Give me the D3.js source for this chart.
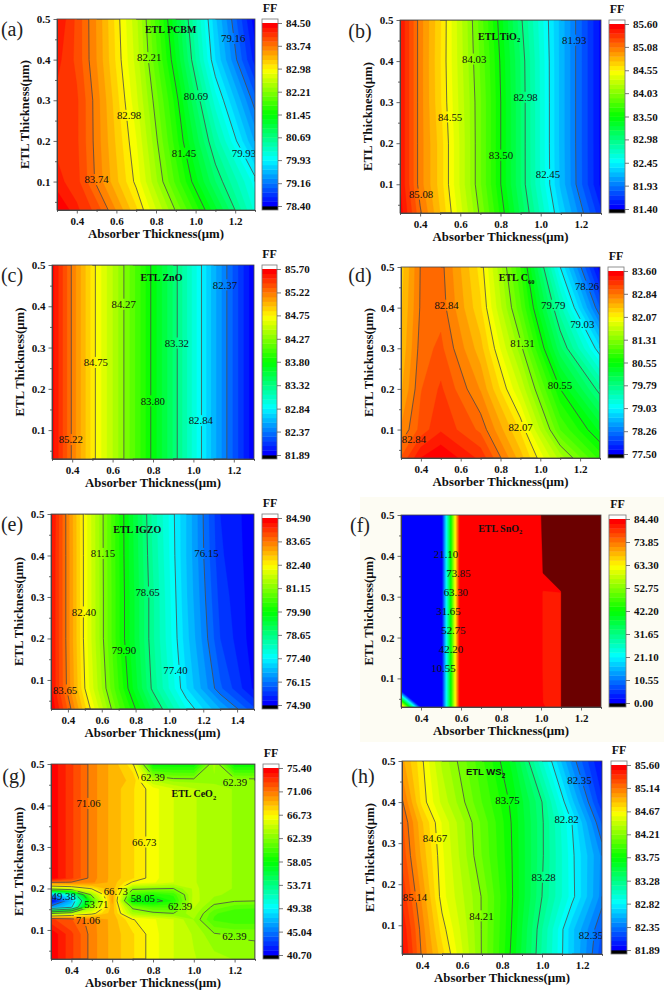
<!DOCTYPE html>
<html><head><meta charset="utf-8">
<script src="https://cdn.jsdelivr.net/npm/d3@7"></script>
<style>html,body{margin:0;padding:0;background:#fff}svg{display:block}</style>
</head><body><svg id="c" width="664" height="992"></svg>
<script>
// ---------- data ----------
const xsStd = [0.3,0.4,0.5,0.7,0.9,1.1,1.3];
const ysStd = [0.03,0.1,0.2,0.3,0.4,0.5];

const ticksA = [78.40,79.16,79.93,80.69,81.45,82.21,82.98,83.74,84.50];
const ffA = [
 [84.55,84.23,83.98,83.16,82.19,81.19,80.18],
 [84.25,84.10,83.70,82.93,81.86,80.84,80.00],
 [84.15,84.07,83.67,82.83,81.67,80.49,79.44],
 [84.15,84.07,83.66,82.71,81.53,80.15,79.07],
 [84.25,84.00,83.58,82.61,81.30,79.77,78.63],
 [84.35,84.00,83.57,82.56,81.16,79.65,78.45]];
const labelsA = [["83.74",.5,.105],["82.98",.664,.263],["82.21",.766,.405],["81.45",.941,.17],["80.69",1.002,.311],["79.93",1.244,.17],["79.16",1.19,.452]];

const ticksB = [81.40,81.93,82.45,82.98,83.50,84.03,84.55,85.08,85.60];
const ffB = [
 [85.55,85.10,84.76,84.00,83.16,82.32,81.63],
 [85.50,85.02,84.71,83.93,83.08,82.21,81.47],
 [85.50,85.02,84.71,83.93,83.08,82.20,81.47],
 [85.50,85.02,84.67,83.93,83.08,82.20,81.47],
 [85.50,85.02,84.66,83.90,83.07,82.20,81.47],
 [85.50,85.02,84.67,83.87,83.01,82.20,81.47]];
const labelsB = [["85.08",.405,.076],["84.55",.549,.264],["84.03",.669,.405],["83.50",.802,.171],["82.98",.925,.312],["82.45",1.036,.124],["81.93",1.167,.451]];

const ysC = [0.03,0.5];
const ticksC = [81.89,82.37,82.84,83.32,83.80,84.27,84.75,85.22,85.70];
const ffC = [
 [85.65,85.20,84.80,84.12,83.40,82.60,81.90],
 [85.65,85.20,84.80,84.12,83.40,82.60,81.90]];
const labelsC = [["85.22",.393,.077],["84.75",.517,.264],["84.27",.655,.405],["83.80",.799,.171],["83.32",.918,.311],["82.84",1.037,.123],["82.37",1.156,.452]];

const ticksD = [77.50,78.26,79.03,79.79,80.55,81.31,82.07,82.84,83.60];
const ffD = [
 [83.00,83.45,83.60,83.25,82.45,81.55,80.80],
 [82.70,83.05,83.27,82.95,82.20,81.00,80.35],
 [82.50,82.98,83.17,82.67,81.75,80.55,79.70],
 [82.40,82.92,83.03,82.44,81.38,79.98,78.90],
 [82.35,82.87,82.93,82.25,81.04,79.54,78.10],
 [82.30,82.86,82.90,82.16,80.85,79.03,77.55]];
const labelsD = [["82.84",.365,.075],["82.84",.529,.406],["82.07",.901,.105],["81.31",.91,.312],["80.55",1.099,.209],["79.79",1.065,.406],["79.03",1.211,.359],["78.26",1.235,.453]];

const xsE = [0.3,0.4,0.5,0.7,0.9,1.1,1.3,1.5];
const ysE = [0.03,0.08,0.2,0.3,0.4,0.5];
const ticksE = [74.90,76.15,77.40,78.65,79.90,81.15,82.40,83.65,84.90];
const ffE = [
 [84.90,83.85,82.73,80.72,79.07,77.65,76.65,75.70],
 [84.70,83.55,82.40,80.40,78.58,77.16,75.95,75.10],
 [84.70,83.50,82.30,80.20,78.46,77.00,75.65,75.00],
 [84.70,83.50,82.30,80.20,78.46,76.93,75.55,75.00],
 [84.70,83.50,82.30,80.18,78.39,76.89,75.45,75.00],
 [84.75,83.49,82.29,80.18,78.33,76.89,75.40,75.00]];
const labelsE = [["83.65",.383,.076],["82.40",.495,.264],["81.15",.607,.405],["79.90",.731,.171],["78.65",.871,.312],["77.40",1.036,.123],["76.15",1.219,.405]];

const xsF = [0.3,0.4,0.505,0.595,1.0,1.01,1.1,1.11,1.3];
const ysF = [0.03,0.07,0.12,0.31,0.36,0.5];
const ticksF = [0.00,10.55,21.10,31.65,42.20,52.75,63.30,73.85,84.40];
const ffF = [
 [72,0.5,0.5,84,84,82.4,81.5,200,200],
 [0.5,0.5,0.5,84,84,82.0,81.5,200,200],
 [0.5,0.5,0.5,84,84,81.5,81.5,200,200],
 [0.5,0.5,0.5,84,84,81.5,81.5,200,200],
 [0.5,0.5,0.5,84,84,90.5,200,200,200],
 [0.5,0.5,0.5,84,84,200,200,200,200]];
const labelsF = [["21.10",.525,.404],["73.85",.587,.358],["63.30",.574,.311],["31.65",.537,.265],["52.75",.562,.218],["42.20",.55,.171],["10.55",.512,.124]];

const xsG = [0.3,0.4,0.5,0.6,0.7,0.8,0.9,1.0,1.1,1.2,1.3];
const ysG = [0.03,0.09,0.125,0.14,0.155,0.17,0.185,0.2,0.215,0.225,0.44,0.46,0.5];
const ticksG = [40.70,45.04,49.38,53.71,58.05,62.39,66.73,71.06,75.40];
const ffG = [
 [75.3,73.0,70.6,69.0,67.7,66.2,65.0,64.2,63.6,63.2,62.9],
 [75.3,73.0,70.6,69.0,67.7,66.2,65.0,64.0,62.5,62.2,62.2],
 [73.0,72.0,70.5,69.0,66.8,66.0,65.0,63.2,60.5,60.0,60.0],
 [62.0,64.0,66.2,69.0,63.5,62.8,62.39,63.8,60.8,60.0,60.0],
 [46.0,49.0,63.0,69.0,62.0,60.5,60.5,64.2,62.0,61.0,60.8],
 [41.0,47.0,60.0,69.6,57.5,57.2,59.0,64.6,62.9,62.5,62.39],
 [46.0,51.0,63.0,69.4,60.0,59.0,60.0,64.4,63.4,63.0,62.8],
 [64.0,65.0,67.0,69.2,62.8,62.6,62.39,64.3,63.6,63.2,62.9],
 [71.2,71.0,70.4,69.0,66.6,66.0,65.0,64.2,63.6,63.2,62.9],
 [75.3,73.0,70.6,69.0,67.7,66.2,65.0,64.2,63.6,63.2,62.9],
 [75.3,73.0,70.6,69.0,67.7,66.2,65.0,64.2,63.6,63.2,62.9],
 [75.3,73.0,70.6,69.0,68.2,64.0,63.0,62.9,63.0,63.0,62.9],
 [75.3,73.0,70.6,69.0,67.0,58.0,58.0,58.0,63.6,58.0,58.0]];
const labelsG = [["49.38",.362,.182],["53.71",.522,.163],["66.73",.618,.194],["71.06",.484,.405],["71.06",.481,.123],["66.73",.757,.312],["62.39",.799,.468],["62.39",1.202,.457],["58.05",.75,.176],["62.39",.933,.158],["62.39",1.199,.084]];

const xsH = [0.3,0.4,0.5,0.7,0.85,1.0,1.15,1.3];
const ysH = [0.03,0.09,0.17,0.27,0.35,0.4,0.5];
const ticksH = [81.89,82.35,82.82,83.28,83.75,84.21,84.67,85.14,85.60];
const ffH = [
 [85.55,85.12,84.80,84.20,83.72,83.17,82.66,82.20],
 [85.50,85.09,84.72,84.20,83.74,83.19,82.66,82.25],
 [85.40,85.02,84.62,84.20,83.76,83.28,82.86,82.40],
 [85.30,84.92,84.60,84.11,83.75,83.30,82.85,82.42],
 [85.25,84.87,84.57,84.09,83.74,83.30,82.82,82.24],
 [85.16,84.73,84.46,84.02,83.72,83.28,82.66,82.09],
 [84.98,84.69,84.37,83.95,83.62,83.01,82.41,81.95]];
const labelsH = [["85.14",.365,.169],["84.67",.465,.311],["84.21",.697,.123],["83.75",.827,.405],["83.28",1.008,.217],["82.82",1.123,.358],["82.35",1.187,.453],["82.35",1.245,.076]];

const xTicksStd = [0.4,0.6,0.8,1.0,1.2];
const xTicksE = [0.4,0.6,0.8,1.0,1.2,1.4];
const yTicks = [0.1,0.2,0.3,0.4,0.5];
const yMinorTicks = [0.05,0.15,0.25,0.35,0.45];
const xTitle = "Absorber Thickness(μm)";
const yTitle = "ETL Thickness(μm)";

// ---------- layout ----------
const panels = [
 {id:"a",xs:xsStd,ys:ysStd,ff:ffA,ticks:ticksA,labels:labelsA,name:["ETL PCBM"],nameAt:[.874,.474],L:57,R:255,T:19,B:210,bL:262,bR:278,tag:[12,29],xT:xTicksStd,xMax:1.3},
 {id:"b",xs:xsStd,ys:ysStd,ff:ffB,ticks:ticksB,labels:labelsB,name:["ETL TiO","2"],nameAt:[.793,.461],L:400,R:601,T:20,B:213,bL:609,bR:625,tag:[360,31],xT:xTicksStd,xMax:1.3},
 {id:"c",xs:xsStd,ys:ysC,ff:ffC,ticks:ticksC,labels:labelsC,name:["ETL ZnO"],nameAt:[.842,.469],L:52,R:254,T:265,B:459,bL:262,bR:277,tag:[12,275],xT:xTicksStd,xMax:1.3},
 {id:"d",xs:xsStd,ys:ysStd,ff:ffD,ticks:ticksD,labels:labelsD,name:["ETL C","60"],nameAt:[.881,.474],L:401,R:600,T:267,B:458,bL:608,bR:624,tag:[360,275],xT:xTicksStd,xMax:1.3},
 {id:"e",xs:xsE,ys:ysE,ff:ffE,ticks:ticksE,labels:labelsE,name:["ETL IGZO"],nameAt:[.81,.463],L:51,R:254,T:514,B:709,bL:262,bR:278,tag:[12,524],xT:xTicksE,xMax:1.5},
 {id:"f",xs:xsF,ys:ysF,ff:ffF,ticks:ticksF,labels:labelsF,name:["ETL SnO","2"],nameAt:[.796,.467],L:401,R:601,T:515,B:707,bL:609,bR:626,tag:[360,525],xT:xTicksStd,xMax:1.3,over:90,noLines:true},
 {id:"g",xs:xsG,ys:ysG,ff:ffG,ticks:ticksG,labels:labelsG,name:["ETL CeO","2"],nameAt:[1.0,.428],L:51,R:255,T:764,B:959,bL:263,bR:279,tag:[14,776],xT:xTicksStd,xMax:1.3},
 {id:"h",xs:xsH,ys:ysH,ff:ffH,ticks:ticksH,labels:labelsH,name:["ETL WS","2"],nameAt:[.718,.473],L:402,R:602,T:761,B:954,bL:611,bR:627,tag:[363,776],xT:xTicksStd,xMax:1.3,sans:true}
];
const serif = "'Liberation Serif','Times New Roman',serif";
const rainbow = d3.scaleLinear().domain([0,.25,.5,.75,1]).range(["#0000ff","#00ffff","#00ff00","#ffff00","#ff0000"]);
const nBands = 40;
const svg = d3.select("#c");
svg.append("rect").attr("x",360).attr("y",497).attr("width",304).attr("height",245).attr("fill","#fdfcf3");

function interpAxis(arr, c){
  const n = arr.length;
  const idx = Math.max(0, Math.min(n-1, c-0.5));
  const i = Math.min(n-2, Math.floor(idx));
  return arr[i] + (arr[i+1]-arr[i])*(idx-i);
}

panels.forEach(p=>{
  const g = svg.append("g");
  const x = d3.scaleLinear().domain([0.3,p.xMax]).range([p.L,p.R]);
  const y = d3.scaleLinear().domain([0.03,0.5]).range([p.B,p.T]);
  const lo = p.ticks[0], hi = p.ticks[p.ticks.length-1];
  const step = (hi-lo)/nBands;
  const band = i => rainbow(i/(nBands-1));
  const nx = p.xs.length, ny = p.ys.length;
  const flat = p.ff.flat();
  const contours = d3.contours().size([nx,ny]).smooth(true);
  const px = pt => [x(interpAxis(p.xs,pt[0])), y(interpAxis(p.ys,pt[1]))];
  const geo = d3.geoPath(d3.geoTransform({point(a,b){const q=px([a,b]);this.stream.point(q[0],q[1]);}}));

  const defs = g.append("defs");
  defs.append("clipPath").attr("id","clip"+p.id).append("rect").attr("x",p.L).attr("y",p.T).attr("width",p.R-p.L).attr("height",p.B-p.T);
  const mask = defs.append("mask").attr("id","mask"+p.id).attr("maskUnits","userSpaceOnUse")
    .attr("x",p.L-2).attr("y",p.T-2).attr("width",p.R-p.L+4).attr("height",p.B-p.T+4);
  mask.append("rect").attr("x",p.L-2).attr("y",p.T-2).attr("width",p.R-p.L+4).attr("height",p.B-p.T+4).attr("fill","#fff");
  p.labels.forEach(l=>mask.append("rect").attr("x",x(l[1])-14).attr("y",y(l[2])-5.5).attr("width",28).attr("height",11).attr("fill","#000"));

  const plot = g.append("g").attr("clip-path",`url(#clip${p.id})`);
  plot.append("rect").attr("x",p.L).attr("y",p.T).attr("width",p.R-p.L).attr("height",p.B-p.T).attr("fill",band(0));
  d3.range(1,nBands).forEach(i=>{
    const c = band(i);
    plot.append("path").datum(contours.contour(flat, lo+i*step)).attr("d",geo).attr("fill",c).attr("stroke",c).attr("stroke-width",0.3);
  });
  if(p.over) plot.append("path").datum(contours.contour(flat,p.over)).attr("d",geo).attr("fill","#6b0000").attr("stroke","#6b0000").attr("stroke-width",0.3);

  if(!p.noLines){
    const lines = plot.append("g").attr("mask",`url(#mask${p.id})`);
    p.ticks.slice(1,-1).forEach(v=>{
      const mp = contours.contour(flat,v);
      let d = "";
      mp.coordinates.forEach(poly=>poly.forEach(ring=>{
        let pen = false;
        for(let k=0;k<ring.length-1;k++){
          const a=ring[k], b=ring[k+1];
          const edge = (a[0]===b[0]&&(a[0]<=0||a[0]>=nx)) || (a[1]===b[1]&&(a[1]<=0||a[1]>=ny));
          if(edge){pen=false;continue;}
          const A=px(a),B=px(b);
          if(!pen) d+=`M${A[0].toFixed(2)},${A[1].toFixed(2)}`;
          d+=`L${B[0].toFixed(2)},${B[1].toFixed(2)}`;
          pen=true;
        }
      }));
      lines.append("path").attr("d",d).attr("fill","none").attr("stroke","#4a4a4a").attr("stroke-width",0.8);
    });
  }
  const tx = plot.append("g").attr("font-family",serif).attr("font-size",10.8).attr("fill","#111").attr("text-anchor","middle");
  p.labels.forEach(l=>tx.append("text").attr("x",x(l[1])).attr("y",y(l[2])).attr("dy","0.35em").text(l[0]));

  // panel name
  const nm = g.append("text").attr("x",x(p.nameAt[0])).attr("y",y(p.nameAt[1])).attr("dy","0.35em").attr("text-anchor","middle")
    .attr("font-family",p.sans?"'Liberation Sans',Arial,sans-serif":serif).attr("font-weight","bold").attr("font-size",p.sans?9.5:10).attr("fill","#111");
  nm.append("tspan").text(p.name[0]);
  if(p.name[1]) nm.append("tspan").attr("dy","2.5").attr("font-size",6.5).text(p.name[1]);

  // frame & axes
  g.append("rect").attr("x",p.L).attr("y",p.T).attr("width",p.R-p.L).attr("height",p.B-p.T).attr("fill","none").attr("stroke","#444").attr("stroke-width",0.8);
  const xa = g.append("g").attr("transform",`translate(0,${p.B})`).call(d3.axisBottom(x).tickValues(p.xT).tickFormat(d3.format(".1f")).tickSizeInner(3.5).tickSizeOuter(0).tickPadding(3.5));
  const ya = g.append("g").attr("transform",`translate(${p.L},0)`).call(d3.axisLeft(y).tickValues(yTicks).tickFormat(d3.format(".1f")).tickSizeInner(3.5).tickSizeOuter(0).tickPadding(3));
  const xMinor = p.xT.map(v=>v+0.1).concat([0.3]).filter(v=>v<=p.xMax+1e-6);
  g.append("g").attr("transform",`translate(0,${p.B})`).call(d3.axisBottom(x).tickValues(xMinor).tickFormat("").tickSizeInner(2).tickSizeOuter(0));
  g.append("g").attr("transform",`translate(${p.L},0)`).call(d3.axisLeft(y).tickValues(yMinorTicks).tickFormat("").tickSizeInner(2).tickSizeOuter(0));
  [xa,ya].forEach(a=>a.selectAll("text").attr("font-family",serif).attr("font-weight","bold").attr("font-size",11).attr("fill","#111"));
  g.selectAll(".domain").attr("stroke","#444").attr("stroke-width",0.8);
  g.selectAll(".tick line").attr("stroke","#444").attr("stroke-width",0.8);

  g.append("text").attr("x",(p.L+p.R)/2).attr("y",p.B+24).attr("dy","0.35em").attr("text-anchor","middle")
    .attr("font-family",serif).attr("font-weight","bold").attr("font-size",12.8).attr("fill","#111").text(xTitle);
  g.append("text").attr("transform",`translate(${p.L-32},${(p.T+p.B)/2}) rotate(-90)`).attr("dy","0.35em").attr("text-anchor","middle")
    .attr("font-family",serif).attr("font-weight","bold").attr("font-size",12.8).attr("fill","#111").text(yTitle);
  g.append("text").attr("x",p.tag[0]).attr("y",p.tag[1]).attr("dy","0.35em").attr("text-anchor","middle")
    .attr("font-family",serif).attr("font-size",20).attr("fill","#222").text(`(${p.id})`);

  // colour bar
  const by = d3.scaleLinear().domain([lo,hi]).range([p.B-4,p.T+4]);
  const bar = g.append("g");
  bar.append("rect").attr("x",p.bL).attr("y",p.T).attr("width",p.bR-p.bL).attr("height",4).attr("fill","#fff");
  bar.append("rect").attr("x",p.bL).attr("y",by(lo)).attr("width",p.bR-p.bL).attr("height",4).attr("fill","#000");
  d3.range(nBands).forEach(i=>{
    bar.append("rect").attr("x",p.bL).attr("width",p.bR-p.bL)
      .attr("y",by(lo+(i+1)*step)).attr("height",by(lo+i*step)-by(lo+(i+1)*step)+0.4).attr("fill",band(i));
  });
  bar.append("rect").attr("x",p.bL).attr("y",p.T).attr("width",p.bR-p.bL).attr("height",p.B-p.T).attr("fill","none").attr("stroke","#777").attr("stroke-width",0.8);
  const ba = g.append("g").attr("transform",`translate(${p.bR},0)`).call(d3.axisRight(by).tickValues(p.ticks).tickFormat(d3.format(".2f")).tickSizeInner(4).tickSizeOuter(0).tickPadding(4));
  ba.select(".domain").remove();
  ba.selectAll("line").attr("stroke","#555").attr("stroke-width",0.8);
  ba.selectAll("text").attr("font-family",serif).attr("font-weight","bold").attr("font-size",11).attr("fill","#111");
  g.append("text").attr("x",(p.bL+p.bR)/2).attr("y",p.T-11).attr("dy","0.35em").attr("text-anchor","middle")
    .attr("font-family",serif).attr("font-weight","bold").attr("font-size",12).attr("fill","#111").text("FF");
});
</script></body></html>
